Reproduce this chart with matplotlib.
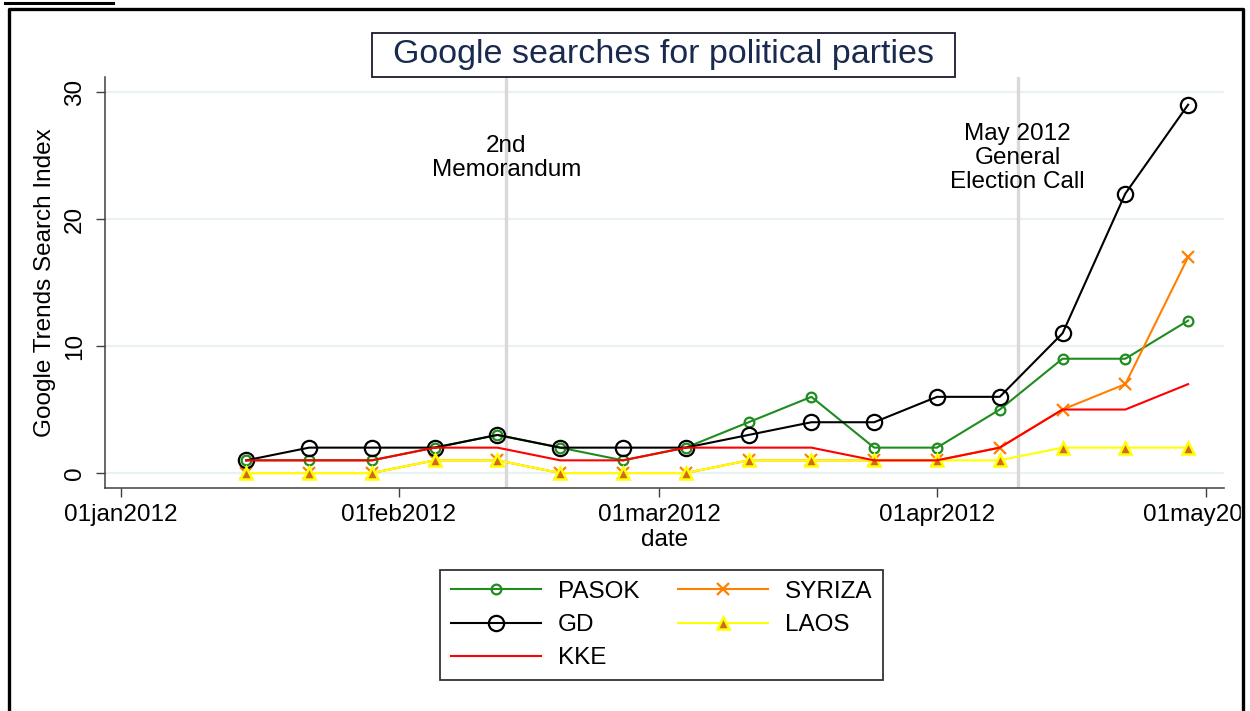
"""
Google searches for political parties, Greece, Jan-Apr 2012.
"""

from datetime import datetime

import matplotlib

matplotlib.use("Agg")
import matplotlib.dates as mdates
import matplotlib.pyplot as plt
from matplotlib.lines import Line2D
from matplotlib.patches import Rectangle

plt.rcParams["font.family"] = ["Liberation Sans", "DejaVu Sans"]

week_labels = [
    "2012-01-15", "2012-01-22", "2012-01-29", "2012-02-05",
    "2012-02-12", "2012-02-19", "2012-02-26", "2012-03-04",
    "2012-03-11", "2012-03-18", "2012-03-25", "2012-04-01",
    "2012-04-08", "2012-04-15", "2012-04-22", "2012-04-29",
]
pasok = [1, 1, 1, 2, 3, 2, 1, 2, 4, 6, 2, 2, 5, 9, 9, 12]
syriza = [0, 0, 0, 1, 1, 0, 0, 0, 1, 1, 1, 1, 2, 5, 7, 17]
gd = [1, 2, 2, 2, 3, 2, 2, 2, 3, 4, 4, 6, 6, 11, 22, 29]
laos = [0, 0, 0, 1, 1, 0, 0, 0, 1, 1, 1, 1, 1, 2, 2, 2]
kke = [1, 1, 1, 2, 2, 1, 1, 2, 2, 2, 1, 1, 2, 5, 5, 7]

tick_dates = ["2012-01-01", "2012-02-01", "2012-03-01", "2012-04-01", "2012-05-01"]
tick_labels = ["01jan2012", "01feb2012", "01mar2012", "01apr2012", "01may2012"]

events = ["2012-02-13", "2012-04-10"]
event_labels = ["2nd\nMemorandum", "May 2012\nGeneral\nElection Call"]


def to_num(s):
    return mdates.date2num(datetime.strptime(s, "%Y-%m-%d"))


def main() -> None:
    fs = 17.5
    x = [to_num(d) for d in week_labels]

    fig = plt.figure(figsize=(12.5, 7.11), dpi=100)
    ax = fig.add_axes([0.084, 0.3136, 0.8952, 0.5781])

    for yv in [0, 10, 20, 30]:
        ax.axhline(yv, color="#eaf1f3", lw=1.6, zorder=0)
    for ev in events:
        ax.axvline(to_num(ev), color="#d9d9d9", lw=2.4, zorder=1)
    for ev, lab in zip(events, event_labels):
        ax.text(to_num(ev), 24.8, lab, ha="center", va="center", fontsize=fs,
                linespacing=1.1, zorder=2)

    h_pasok, = ax.plot(x, pasok, color="#1e8c1e", lw=1.5, marker="o", ms=7,
                       mfc="none", mec="#1e8c1e", mew=1.6, label="PASOK", zorder=3)
    h_syriza, = ax.plot(x, syriza, color="#ff8000", lw=1.5, marker="x", ms=8,
                        mew=1.6, label="SYRIZA", zorder=3)
    h_gd, = ax.plot(x, gd, color="black", lw=1.5, marker="o", ms=11,
                    mfc="none", mec="black", mew=1.6, label="GD", zorder=3)
    h_laos, = ax.plot(x, laos, color="#ffff00", lw=1.5, marker="^", ms=8,
                      mfc="#d2691e", mec="#ffff00", mew=1.8, label="LAOS", zorder=3)
    h_kke, = ax.plot(x, kke, color="#ff0000", lw=1.5, label="KKE", zorder=3)

    ax.set_xlim(to_num("2012-01-01") - 1.75, to_num("2012-05-01") + 2.0)
    ax.set_ylim(-1.18, 31.18)
    ax.set_xticks([to_num(d) for d in tick_dates])
    ax.set_xticklabels(tick_labels)
    ax.set_yticks([0, 10, 20, 30])
    ax.set_yticklabels(["0", "10", "20", "30"], rotation=90, va="center")
    ax.tick_params(axis="both", labelsize=fs, length=6.5, width=1.0, color="#404040")
    ax.tick_params(axis="x", pad=5)
    ax.tick_params(axis="y", pad=7)
    ax.set_xlabel("date", fontsize=fs, labelpad=2)
    ax.set_ylabel("Google Trends Search Index", fontsize=fs, labelpad=6)

    for side in ["top", "right"]:
        ax.spines[side].set_visible(False)
    for side in ["left", "bottom"]:
        ax.spines[side].set_color("#404040")
        ax.spines[side].set_linewidth(1.1)

    # title in a box
    fig.add_artist(Rectangle((372 / 1250, 1 - 77 / 711), 583 / 1250, 44 / 711,
                             transform=fig.transFigure, fill=False,
                             edgecolor="#1a1a2e", lw=1.3))
    fig.text(663.5 / 1250, 1 - 55 / 711, "Google searches for political parties",
             ha="center", va="center", fontsize=24.5, color="#1a2a4e")

    leg = fig.legend(handles=[h_pasok, h_gd, h_kke, h_syriza, h_laos], ncol=2,
                     loc="center", bbox_to_anchor=(661.5 / 1250, 1 - 625 / 711),
                     fontsize=fs, handlelength=3.7, handletextpad=0.7,
                     columnspacing=1.6, labelspacing=0.47, borderpad=0.45,
                     fancybox=False, framealpha=1, numpoints=1)
    leg.get_frame().set_edgecolor("#333333")
    leg.get_frame().set_linewidth(1.3)

    # outer frame of the page crop
    fig.add_artist(Rectangle((1241 / 1250, 0), 9 / 1250, 1, transform=fig.transFigure,
                             color="white", zorder=10))
    fw = 1 / 711
    fig.add_artist(Line2D([9 / 1250, 9 / 1250, 1243 / 1250, 1243 / 1250],
                          [-0.01, 1 - 9 * fw, 1 - 9 * fw, -0.01],
                          transform=fig.transFigure, color="black", lw=2.4, zorder=11))
    fig.add_artist(Line2D([5 / 1250, 113 / 1250], [1 - 3 * fw, 1 - 3 * fw],
                          transform=fig.transFigure, color="black", lw=2.2, zorder=11))

    fig.savefig("out.png", dpi=100)
    plt.close(fig)


if __name__ == "__main__":
    main()
